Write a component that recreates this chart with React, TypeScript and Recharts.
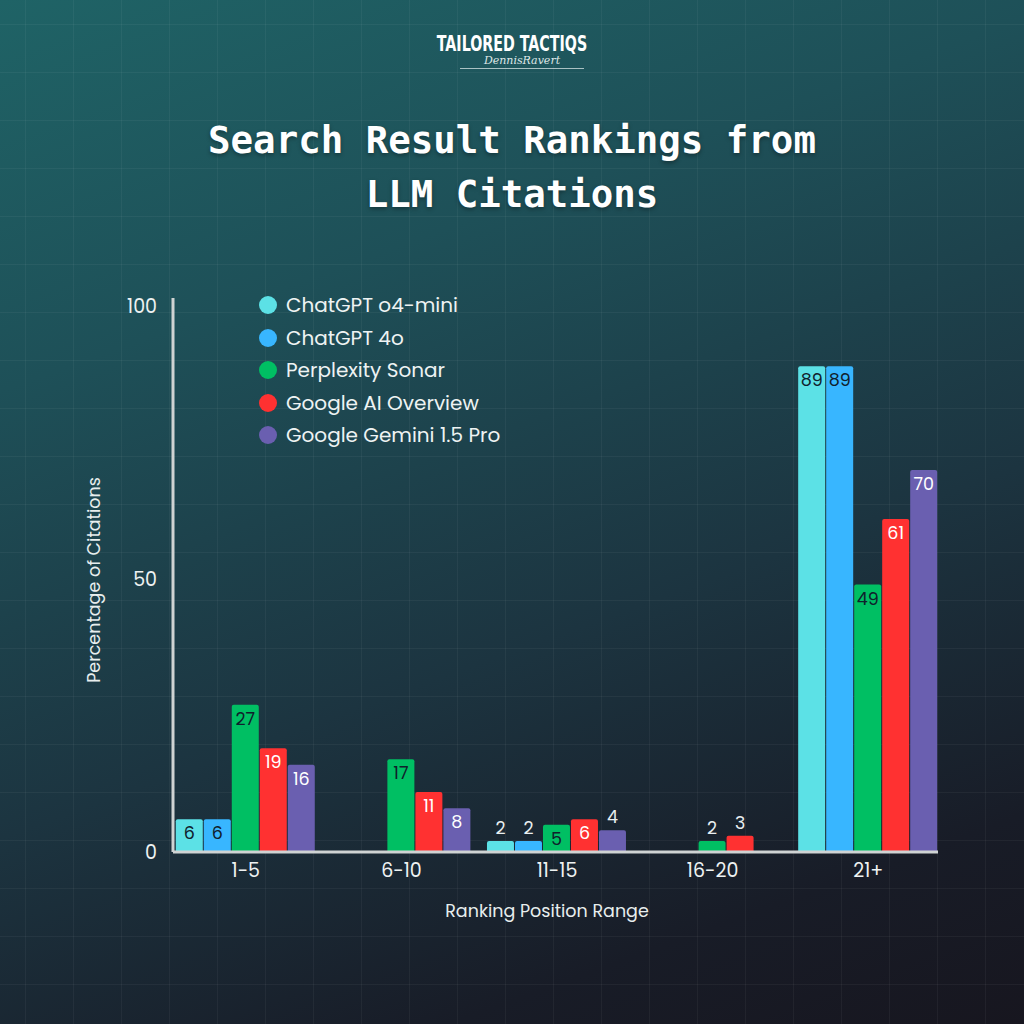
import { Bar, BarChart, LabelList, Legend, XAxis, YAxis } from "recharts";

const categories = ["1-5", "6-10", "11-15", "16-20", "21+"];
const o4mini = [6, 0, 2, 0, 89];
const gpt4o = [6, 0, 2, 0, 89];
const sonar = [27, 17, 5, 2, 49];
const aiOverview = [19, 11, 6, 3, 61];
const gemini = [16, 8, 4, 0, 70];
const yTicks = [0, 50, 100];

const series = [
  { key: "o4mini", name: "ChatGPT o4-mini", color: "#5ce1e6", values: o4mini, ink: "#10202c" },
  { key: "gpt4o", name: "ChatGPT 4o", color: "#38b6ff", values: gpt4o, ink: "#10202c" },
  { key: "sonar", name: "Perplexity Sonar", color: "#00bf63", values: sonar, ink: "#10202c" },
  { key: "aiOverview", name: "Google AI Overview", color: "#ff3131", values: aiOverview, ink: "#ffffff" },
  { key: "gemini", name: "Google Gemini 1.5 Pro", color: "#6a5fb0", values: gemini, ink: "#ffffff" },
];

const chartData = categories.map((range, i) => {
  const row: Record<string, string | number> = { range };
  series.forEach((s) => {
    row[s.key] = s.values[i];
  });
  return row;
});

const FONT = "Poppins, 'Noto Sans', sans-serif";

function makeLabel(ink: string) {
  return (props: any) => {
    const { x, y, width, value } = props;
    if (!value) return null;
    const cx = Number(x) + Number(width) / 2;
    const inside = value >= 5;
    return (
      <text
        x={cx}
        y={inside ? Number(y) + 20 : Number(y) - 7}
        fill={inside ? ink : "#e8eef0"}
        fontSize={17.5}
        fontFamily={FONT}
        textAnchor="middle"
      >
        {value}
      </text>
    );
  };
}

function LegendBox() {
  return (
    <div style={{ fontFamily: FONT }}>
      {series.map((s) => (
        <div key={s.key} style={{ display: "flex", alignItems: "center", height: 32.5 }}>
          <span
            style={{
              width: 18,
              height: 18,
              borderRadius: 9,
              background: s.color,
              display: "inline-block",
              marginRight: 9,
            }}
          />
          <span style={{ color: "#eef3f3", fontSize: 20 }}>{s.name}</span>
        </div>
      ))}
    </div>
  );
}

export default function App() {
  return (
    <div
      style={{
        position: "absolute",
        left: 0,
        top: 0,
        width: 1024,
        height: 1024,
        overflow: "hidden",
        backgroundColor: "#1a2a34",
        backgroundImage:
          "linear-gradient(to right, rgba(255,255,255,0.045) 1px, transparent 1px), linear-gradient(to bottom, rgba(255,255,255,0.045) 1px, transparent 1px), linear-gradient(160deg, #1f6366 0%, #1e5058 28%, #1c3440 60%, #181c27 85%, #17161f 100%)",
        backgroundSize: "48px 48px, 48px 48px, 100% 100%",
        backgroundPosition: "25px 24px, 25px 24px, 0 0",
      }}
    >
      <div
        style={{
          position: "absolute",
          top: 32,
          left: 0,
          width: 1024,
          textAlign: "center",
          color: "#ffffff",
          fontFamily: "'DejaVu Sans Condensed', 'DejaVu Sans', sans-serif",
          fontWeight: 700,
          fontSize: 22,
          lineHeight: "24px",
          transform: "scaleX(0.72)",
        }}
      >
        TAILORED TACTIQS
      </div>
      <div
        style={{
          position: "absolute",
          top: 53,
          left: 460,
          width: 124,
          height: 15,
          color: "#dfe8e8",
          fontFamily: "'DejaVu Serif', serif",
          fontStyle: "italic",
          fontSize: 11,
          textAlign: "center",
          borderBottom: "1px solid rgba(230,240,240,0.7)",
          lineHeight: "15px",
        }}
      >
        DennisRavert
      </div>
      <div
        style={{
          position: "absolute",
          top: 113,
          left: 0,
          width: 1024,
          textAlign: "center",
          color: "#ffffff",
          fontFamily: "'DejaVu Sans Mono', 'Liberation Mono', monospace",
          fontWeight: 700,
          fontSize: 37.4,
          lineHeight: "54px",
          textShadow: "0 2px 4px rgba(0,0,0,0.35)",
        }}
      >
        Search Result Rankings from
        <br />
        LLM Citations
      </div>
      <div style={{ position: "absolute", left: 0, top: 0 }}>
        <BarChart
          width={1024}
          height={1024}
          data={chartData}
          margin={{ top: 298, right: 86, bottom: 142, left: 113 }}
          barCategoryGap="5%"
          barGap={1}
        >
          <XAxis
            dataKey="range"
            height={30}
            padding={{ left: -5, right: -8 }}
            axisLine={{ stroke: "#cfd3d3", strokeWidth: 3 }}
            tickLine={false}
            tickMargin={6}
            tick={{ fill: "#eef2f2", fontSize: 19, fontFamily: FONT }}
            label={{
              content: () => (
                <text x={547} y={917} fill="#e8eeee" fontSize={17.5} fontFamily={FONT} textAnchor="middle">
                  Ranking Position Range
                </text>
              ),
            }}
          />
          <YAxis
            width={60}
            domain={[0, 101.5]}
            ticks={yTicks}
            axisLine={{ stroke: "#cfd3d3", strokeWidth: 3 }}
            tickLine={false}
            tickMargin={10}
            tick={{ fill: "#eef2f2", fontSize: 19, fontFamily: FONT }}
            label={{
              content: () => (
                <text
                  x={0}
                  y={0}
                  transform="translate(100 580) rotate(-90)"
                  fill="#e8eeee"
                  fontSize={17.5}
                  fontFamily={FONT}
                  textAnchor="middle"
                >
                  Percentage of Citations
                </text>
              ),
            }}
          />
          <Legend
            layout="vertical"
            verticalAlign="middle"
            align="center"
            content={() => <LegendBox />}
            wrapperStyle={{ left: 259, top: 289, width: 280, height: 165 }}
          />
          {series.map((s) => (
            <Bar
              key={s.key}
              dataKey={s.key}
              name={s.name}
              fill={s.color}
              radius={[2, 2, 0, 0]}
              isAnimationActive={false}
            >
              <LabelList dataKey={s.key} content={makeLabel(s.ink)} />
            </Bar>
          ))}
        </BarChart>
      </div>
    </div>
  );
}
